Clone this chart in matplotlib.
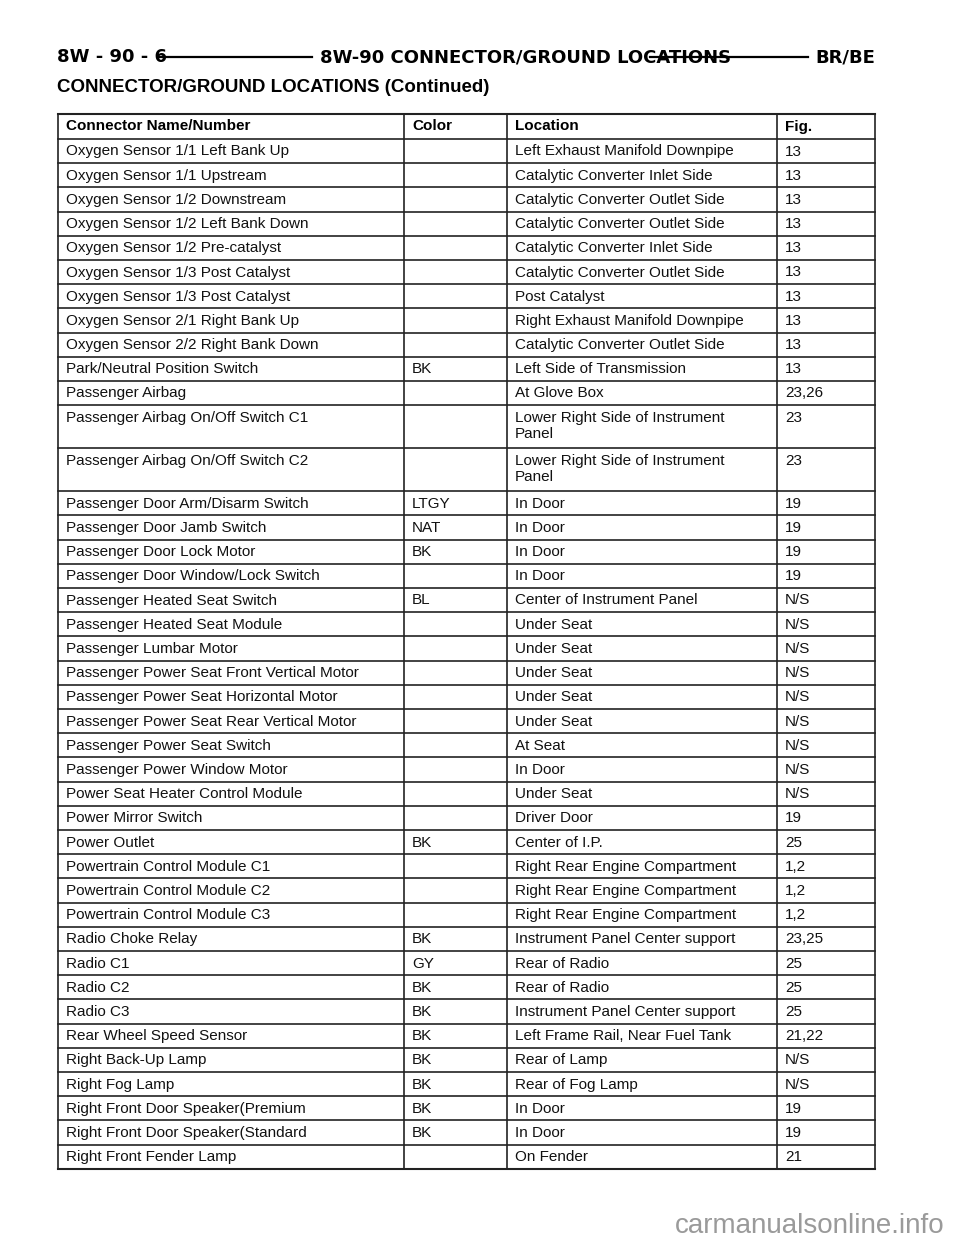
import matplotlib
matplotlib.use("Agg")
import matplotlib.pyplot as plt

columns = ["Connector Name/Number", "Color", "Location", "Fig."]
names = ["Oxygen Sensor 1/1 Left Bank Up", "Oxygen Sensor 1/1 Upstream", "Oxygen Sensor 1/2 Downstream",
 "Oxygen Sensor 1/2 Left Bank Down", "Oxygen Sensor 1/2 Pre-catalyst", "Oxygen Sensor 1/3 Post Catalyst",
 "Oxygen Sensor 1/3 Post Catalyst", "Oxygen Sensor 2/1 Right Bank Up", "Oxygen Sensor 2/2 Right Bank Down",
 "Park/Neutral Position Switch", "Passenger Airbag", "Passenger Airbag On/Off Switch C1",
 "Passenger Airbag On/Off Switch C2", "Passenger Door Arm/Disarm Switch", "Passenger Door Jamb Switch",
 "Passenger Door Lock Motor", "Passenger Door Window/Lock Switch", "Passenger Heated Seat Switch",
 "Passenger Heated Seat Module", "Passenger Lumbar Motor", "Passenger Power Seat Front Vertical Motor",
 "Passenger Power Seat Horizontal Motor", "Passenger Power Seat Rear Vertical Motor",
 "Passenger Power Seat Switch", "Passenger Power Window Motor", "Power Seat Heater Control Module",
 "Power Mirror Switch", "Power Outlet", "Powertrain Control Module C1", "Powertrain Control Module C2",
 "Powertrain Control Module C3", "Radio Choke Relay", "Radio C1", "Radio C2", "Radio C3",
 "Rear Wheel Speed Sensor", "Right Back-Up Lamp", "Right Fog Lamp", "Right Front Door Speaker(Premium",
 "Right Front Door Speaker(Standard", "Right Front Fender Lamp"]
colors = ["", "", "", "", "", "", "", "", "", "BK", "", "", "", "LTGY", "NAT", "BK", "", "BL", "", "", "", "",
 "", "", "", "", "", "BK", "", "", "", "BK", "GY", "BK", "BK", "BK", "BK", "BK", "BK", "BK", ""]
locations = ["Left Exhaust Manifold Downpipe", "Catalytic Converter Inlet Side", "Catalytic Converter Outlet Side",
 "Catalytic Converter Outlet Side", "Catalytic Converter Inlet Side", "Catalytic Converter Outlet Side",
 "Post Catalyst", "Right Exhaust Manifold Downpipe", "Catalytic Converter Outlet Side",
 "Left Side of Transmission", "At Glove Box", "Lower Right Side of Instrument\nPanel",
 "Lower Right Side of Instrument\nPanel", "In Door", "In Door", "In Door", "In Door",
 "Center of Instrument Panel", "Under Seat", "Under Seat", "Under Seat", "Under Seat", "Under Seat",
 "At Seat", "In Door", "Under Seat", "Driver Door", "Center of I.P.", "Right Rear Engine Compartment",
 "Right Rear Engine Compartment", "Right Rear Engine Compartment", "Instrument Panel Center support",
 "Rear of Radio", "Rear of Radio", "Instrument Panel Center support", "Left Frame Rail, Near Fuel Tank",
 "Rear of Lamp", "Rear of Fog Lamp", "In Door", "In Door", "On Fender"]
figs = ["13"] * 10 + ["23,26", "23", "23", "19", "19", "19", "19", "N/S", "N/S", "N/S", "N/S", "N/S", "N/S",
 "N/S", "N/S", "N/S", "19", "25", "1,2", "1,2", "1,2", "23,25", "25", "25", "25", "21,22", "N/S", "N/S",
 "19", "19", "21"]

W, H = 960, 1242
fig = plt.figure(figsize=(W / 100, H / 100), dpi=100)
ax = fig.add_axes([0, 0, 1, 1])
ax.set_xlim(0, W); ax.set_ylim(H, 0); ax.axis("off")
FONT = "Liberation Sans"
NARROW = "Liberation Sans Narrow"

# Page header
ax.text(57, 57, "8W - 90 - 6", fontsize=13, fontweight="bold", family=NARROW, va="center")
ax.plot([160, 312], [57, 57], color="black", lw=1.6)
ax.text(320, 57, "8W-90 CONNECTOR/GROUND LOCATIONS", fontsize=13, fontweight="bold", family=NARROW, va="center")
ax.plot([650, 808], [57, 57], color="black", lw=1.6)
ax.text(875, 57, "BR/BE", fontsize=13, fontweight="bold", family=NARROW, va="center", ha="right")
ax.text(57, 88, "CONNECTOR/GROUND LOCATIONS (Continued)", fontsize=13.5, fontweight="bold",
        family=FONT, va="center")

# Table
xs = [58, 404, 507, 777, 875]
top = 114
hdr_h = 25
row_h = [43.0 if "\n" in loc else 24.2 for loc in locations]
ylines = [top, top + hdr_h]
for h in row_h:
    ylines.append(ylines[-1] + h)
lw = 1.2
for y in ylines:
    ax.plot([xs[0], xs[-1]], [y, y], color="#222", lw=lw if y not in (top, ylines[-1]) else 1.5)
for x in xs:
    ax.plot([x, x], [top, ylines[-1]], color="#222", lw=lw)

for c, label in enumerate(columns):
    ax.text(xs[c] + 8, top + hdr_h / 2, label, fontsize=11, fontweight="bold", family=FONT, va="center")
for r, (n, col, loc, fg) in enumerate(zip(names, colors, locations, figs)):
    y0 = ylines[r + 1] + 12.5
    for c, txt in enumerate([n, col, loc, fg]):
        ax.text(xs[c] + 8, y0, txt, fontsize=11, family=FONT, va="top" if "\n" in txt else "center",
                linespacing=1.25, color="#111") if "\n" not in txt else \
            ax.text(xs[c] + 8, y0 - 7, txt, fontsize=11, family=FONT, va="top", linespacing=1.25, color="#111")

ax.text(945, 1226, "carmanualsonline.info", fontsize=20, family=FONT, color="#9a9a9a", ha="right", va="center")

fig.savefig("out.png", dpi=100, facecolor="white")
